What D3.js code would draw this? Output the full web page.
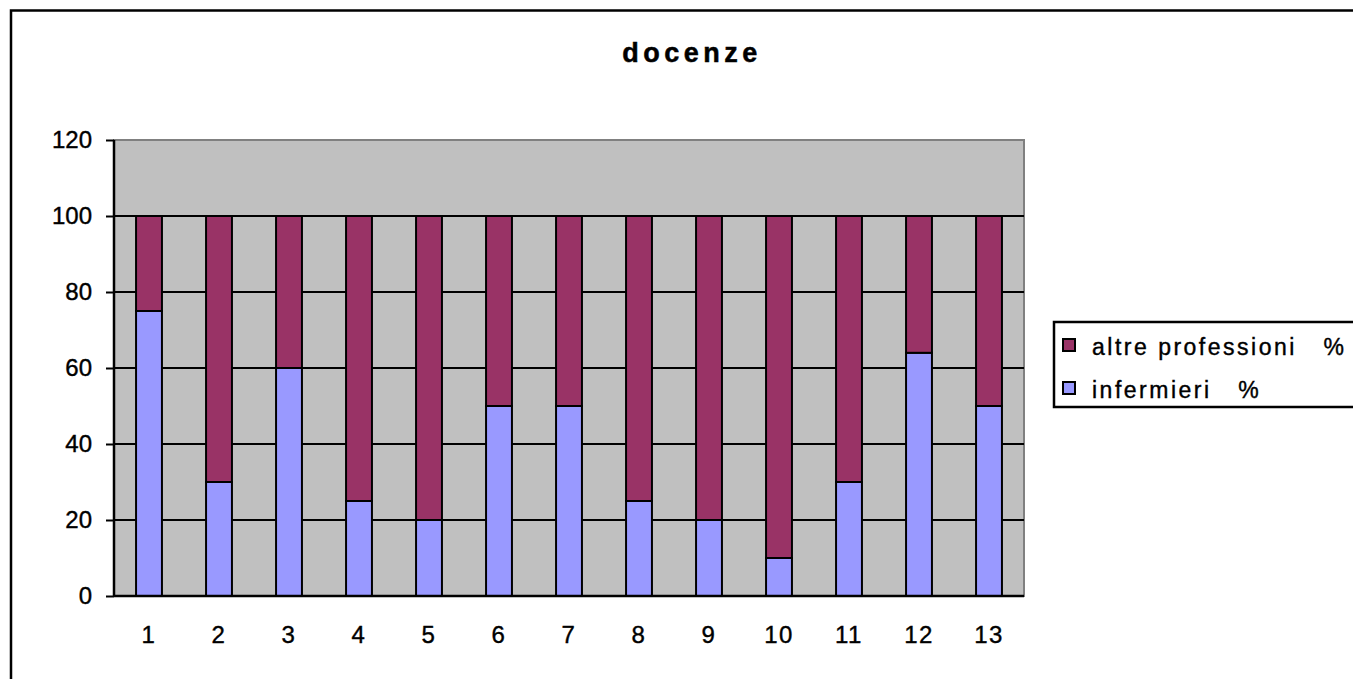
<!DOCTYPE html>
<html><head><meta charset="utf-8">
<script src="https://cdn.jsdelivr.net/npm/d3@7"></script>
<style>body{margin:0;background:#fff;}svg{display:block;font-family:"Liberation Sans",Arial,sans-serif;}</style>
</head><body><svg id="c" width="1353" height="679"></svg>
<script>
const categories = ["1","2","3","4","5","6","7","8","9","10","11","12","13"];
const infermieri = [75,30,60,25,20,50,50,25,20,10,30,64,50];
const altre = [25,70,40,75,80,50,50,75,80,90,70,36,50];
const seriesNames = ["infermieri   %","altre professioni   %"];
const colors = ["#9999FF","#993366"];
const yTicks = [0,20,40,60,80,100,120];
const FONT = "Liberation Sans, Arial, sans-serif";

const svg = d3.select("#c");
// outer frame
svg.append("rect").attr("x",11).attr("y",10.5).attr("width",1400).attr("height",700)
  .attr("fill","#fff").attr("stroke","#000").attr("stroke-width",2.5);

const L=114,R=1024,T=140,B=596;
const x = d3.scaleBand().domain(categories).range([L,R]).paddingInner(0.63).paddingOuter(0.315);
const y = d3.scaleLinear().domain([0,120]).range([B,T]);

svg.append("rect").attr("x",L).attr("y",T).attr("width",R-L).attr("height",B-T)
  .attr("fill","#C0C0C0").attr("stroke","#808080").attr("stroke-width",2);

// gridlines
svg.append("g").selectAll("line").data(yTicks.filter(d=>d>0&&d<120)).join("line")
  .attr("x1",L).attr("x2",R).attr("y1",d=>y(d)).attr("y2",d=>y(d))
  .attr("stroke","#000").attr("stroke-width",2);

const stacked = d3.stack().keys([0,1]).value((d,k)=>d[k])(categories.map((c,i)=>[infermieri[i],altre[i]]));
stacked.forEach((s,si)=>{
  svg.append("g").selectAll("rect").data(s).join("rect")
    .attr("x",(d,i)=>x(categories[i])).attr("width",x.bandwidth())
    .attr("y",d=>y(d[1])).attr("height",d=>y(d[0])-y(d[1]))
    .attr("fill",colors[si]).attr("stroke","#000").attr("stroke-width",2);
});

// axes
const ya = svg.append("g").attr("transform",`translate(${L},0)`)
  .call(d3.axisLeft(y).tickValues(yTicks).tickSize(8).tickPadding(14));
ya.attr("font-size",null).attr("font-family",null);
ya.select(".domain").attr("stroke","#000").attr("stroke-width",2.5).attr("d",`M0,${T}V${B}`);
ya.selectAll(".tick line").attr("stroke","#000").attr("stroke-width",2);
ya.selectAll("text").attr("font-size",24).attr("fill","#000")
  .attr("stroke","#000").attr("stroke-width",0.4).style("font-family",FONT);

const xa = svg.append("g").attr("transform",`translate(0,${B})`)
  .call(d3.axisBottom(x).tickSize(0).tickPadding(30));
xa.attr("font-size",null).attr("font-family",null);
xa.select(".domain").attr("stroke","#000").attr("stroke-width",2.5).attr("d",`M${L},0H${R}`);
xa.selectAll("text").attr("font-size",24).attr("fill","#000").attr("letter-spacing",1.5)
  .attr("stroke","#000").attr("stroke-width",0.4).style("font-family",FONT);

// title
svg.append("text").attr("x",692).attr("y",62).attr("text-anchor","middle")
  .attr("font-size",27).attr("font-weight","bold").attr("letter-spacing",4.5)
  .attr("stroke","#000").attr("stroke-width",0.5)
  .style("font-family",FONT).text("docenze");

// legend
const lg = svg.append("g");
lg.append("rect").attr("x",1054).attr("y",322).attr("width",400).attr("height",85)
  .attr("fill","#fff").attr("stroke","#000").attr("stroke-width",2.5);
const order=[1,0];
order.forEach((si,i)=>{
  const top = 339 + i*43;
  lg.append("rect").attr("x",1063).attr("y",top).attr("width",12).attr("height",12)
    .attr("fill",colors[si]).attr("stroke","#000").attr("stroke-width",2);
  lg.append("text").attr("x",1092).attr("y",top+16).attr("font-size",23)
    .attr("letter-spacing",2.5).attr("stroke","#000").attr("stroke-width",0.4)
    .style("font-family",FONT)
    .attr("xml:space","preserve").style("white-space","pre").text(seriesNames[si]);
});
</script></body></html>
